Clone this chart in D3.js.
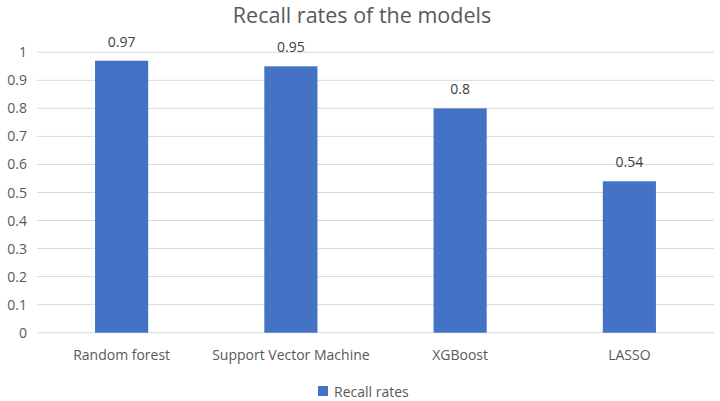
<!DOCTYPE html>
<html><head><meta charset="utf-8">
<script src="https://cdn.jsdelivr.net/npm/d3@7"></script>
<style>body{margin:0;background:#fff;} text{font-family:"Open Sans",sans-serif;}</style>
</head><body>
<svg id="c" width="720" height="401"></svg>
<script>
const categories = ["Random forest","Support Vector Machine","XGBoost","LASSO"];
const values = [0.97,0.95,0.8,0.54];
const yTicks = [0,0.1,0.2,0.3,0.4,0.5,0.6,0.7,0.8,0.9,1];
const seriesName = "Recall rates";
const title = "Recall rates of the models";

(function(){
const svg = d3.select("#c");
const pl = 37, pr = 714, pt = 52.3, pb = 332.7;
const x = d3.scaleBand().domain(categories).range([pl,pr]).paddingInner(0.686).paddingOuter(0.343);
const y = d3.scaleLinear().domain([0,1]).range([pb,pt]);
const col = "#4472C4";

svg.append("rect").attr("width",720).attr("height",401).attr("fill","#fff");
svg.append("text").attr("x",362).attr("y",23).attr("text-anchor","middle")
  .attr("font-size",21.5).attr("fill","#595959").text(title);

const g = svg.append("g");
g.selectAll("line.grid").data(yTicks).join("line").attr("class","grid")
  .attr("x1",pl).attr("x2",pr).attr("y1",d=>y(d)).attr("y2",d=>y(d))
  .attr("stroke","#d9d9d9").attr("stroke-width",1);
g.selectAll("text.yt").data(yTicks).join("text").attr("class","yt")
  .attr("x",27).attr("y",d=>y(d)+5).attr("text-anchor","end")
  .attr("font-size",14).attr("fill","#595959").text(d=>d3.format("~g")(d));

g.selectAll("rect.bar").data(values).join("rect").attr("class","bar")
  .attr("x",(d,i)=>x(categories[i])).attr("width",x.bandwidth())
  .attr("y",d=>y(d)).attr("height",d=>y(0)-y(d)).attr("fill",col);

g.selectAll("text.dl").data(values).join("text").attr("class","dl")
  .attr("x",(d,i)=>x(categories[i])+x.bandwidth()/2).attr("y",d=>y(d)-14)
  .attr("text-anchor","middle").attr("font-size",14).attr("fill","#404040").text(d=>d);

g.selectAll("text.xl").data(categories).join("text").attr("class","xl")
  .attr("x",d=>x(d)+x.bandwidth()/2).attr("y",360)
  .attr("text-anchor","middle").attr("font-size",14).attr("fill","#595959").text(d=>d);

svg.append("rect").attr("x",318).attr("y",386).attr("width",10).attr("height",10).attr("fill",col);
svg.append("text").attr("x",334).attr("y",396.5).attr("font-size",14).attr("fill","#595959").text(seriesName);
})();
</script>
</body></html>
